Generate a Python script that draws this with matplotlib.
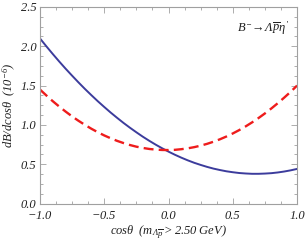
import numpy as np
import matplotlib
matplotlib.use("Agg")
import matplotlib.pyplot as plt
from matplotlib.ticker import MultipleLocator

plt.rcParams['font.family'] = ['Liberation Serif', 'DejaVu Serif']
plt.rcParams['font.style'] = 'italic'
plt.rcParams['mathtext.fontset'] = 'custom'
plt.rcParams['mathtext.rm'] = 'Liberation Serif'
plt.rcParams['mathtext.it'] = 'Liberation Serif:italic'

# values
cos_theta = [-1.0, -0.95, -0.9, -0.85, -0.8, -0.75, -0.7, -0.65, -0.6, -0.55,
             -0.5, -0.45, -0.4, -0.35, -0.3, -0.25, -0.2, -0.15, -0.1, -0.05,
             0.0, 0.05, 0.1, 0.15, 0.2, 0.25, 0.3, 0.35, 0.4, 0.45,
             0.5, 0.55, 0.6, 0.65, 0.7, 0.75, 0.8, 0.85, 0.9, 0.95, 1.0]
blue_vals = [2.100, 1.999, 1.901, 1.806, 1.714, 1.626, 1.540, 1.457, 1.378, 1.301,
             1.228, 1.157, 1.090, 1.025, 0.964, 0.906, 0.850, 0.798, 0.749, 0.703,
             0.660, 0.620, 0.583, 0.549, 0.518, 0.491, 0.466, 0.444, 0.426, 0.410,
             0.398, 0.388, 0.382, 0.378, 0.378, 0.381, 0.386, 0.395, 0.407, 0.422, 0.440]
red_vals = [1.450, 1.374, 1.301, 1.233, 1.169, 1.108, 1.052, 1.000, 0.951, 0.907,
            0.866, 0.830, 0.797, 0.769, 0.744, 0.723, 0.707, 0.694, 0.686, 0.681,
            0.680, 0.683, 0.691, 0.702, 0.717, 0.736, 0.759, 0.786, 0.817, 0.852,
            0.891, 0.934, 0.981, 1.032, 1.087, 1.146, 1.209, 1.276, 1.347, 1.421, 1.500]

xticks = [-1.0, -0.5, 0.0, 0.5, 1.0]
xticklabels = ['$-1.0$', '$-0.5$', '0.0', '0.5', '1.0']
yticks = [0.0, 0.5, 1.0, 1.5, 2.0, 2.5]

fig = plt.figure(figsize=(3.05, 2.4), dpi=100)
ax = fig.add_axes([0.131, 0.152, 0.843, 0.819])

ax.plot(cos_theta, blue_vals, color='#3c3c9c', lw=1.4)
ax.plot(cos_theta, red_vals, color='#ee1c1c', lw=1.7, dashes=(4.2, 2.2))

ax.set_xlim(-1, 1)
ax.set_ylim(0, 2.5)
ax.set_xticks(xticks)
ax.set_yticks(yticks)
ax.set_xticklabels(xticklabels)
ax.xaxis.set_minor_locator(MultipleLocator(0.125))
ax.yaxis.set_minor_locator(MultipleLocator(0.125))

for s in ax.spines.values():
    s.set_color('#a0a0a0')
    s.set_linewidth(0.8)
ax.tick_params(which='both', direction='in', top=True, right=True,
               color='#a0a0a0', width=0.6, labelsize=9, labelcolor='#222222')
ax.tick_params(axis='x', pad=4.5)
ax.tick_params(axis='y', pad=2.5)
ax.tick_params(which='major', length=4)
ax.tick_params(which='minor', length=2)

ax.set_ylabel(r'$dB/dcos\theta\ \ (10^{-6})$', fontsize=9, color='#222222', labelpad=2)
ax.set_xlabel(r'$cos\theta\ \ (m_{\mathrm{Λ}\overline{p}} > 2.50\ GeV)$', fontsize=9,
              color='#222222', labelpad=1.5)

ax.text(0.97, 0.935, r'$B^{-}\!\rightarrow\!\mathrm{Λ}\overline{p}\eta^{\prime}$',
        transform=ax.transAxes, ha='right', va='top', fontsize=9, color='#222222')

fig.savefig('out.png', dpi=100)
